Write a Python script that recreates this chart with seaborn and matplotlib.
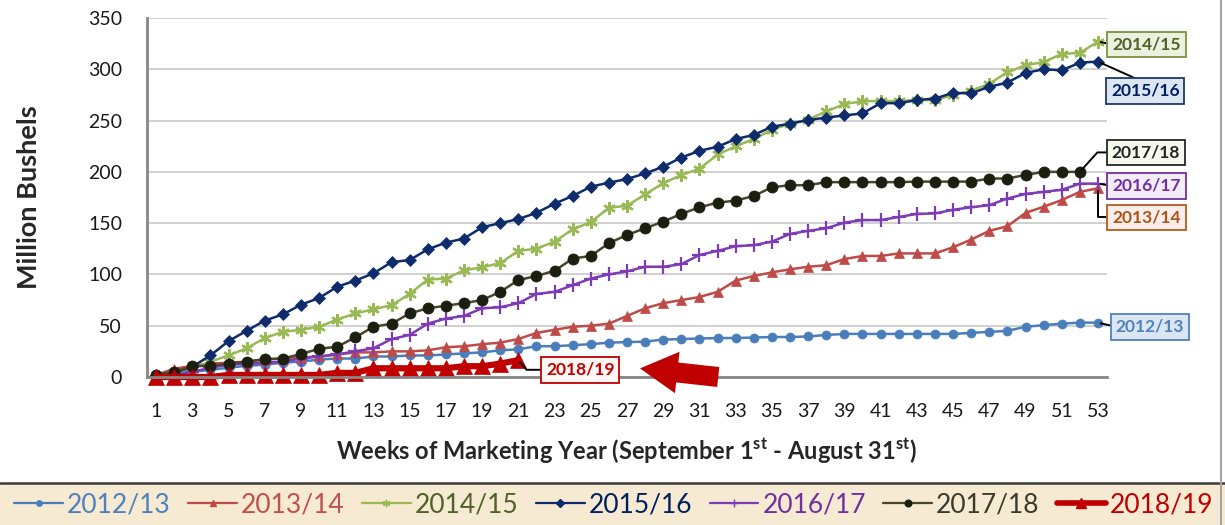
import seaborn as sns
import matplotlib.pyplot as plt
import pandas as pd
from matplotlib.patches import Rectangle
from matplotlib.lines import Line2D

# weekly cumulative values, million bushels
weeks = list(range(1, 54))
y1213 = [1, 3, 5, 7, 9, 11, 12, 14, 15, 17, 18, 18, 20, 20, 21, 21, 22, 23, 24, 26,
         27, 30, 30, 31, 32, 33.5, 34, 34.5, 36.5, 37, 37.5, 38, 38, 38.5, 39, 39, 39.5, 41,
         42, 42, 42, 42, 42, 42, 42, 43, 44, 45, 49, 50.5, 52, 53, 53]
y1314 = [2, 8, 11, 13, 14, 15, 17, 18, 19, 20, 22, 24, 24, 25, 25, 26, 29, 30, 32, 33.5,
         37, 43, 46, 49, 50, 52, 59.5, 67, 72, 75, 78, 83, 94, 98.5, 102, 105, 107.5, 109,
         115, 118, 118, 120.5, 120.5, 120.5, 126.5, 134, 142.5, 147, 160, 166, 172.5, 180.5, 184]
y1415 = [0, 3, 8, 15, 21, 28, 38, 44, 46, 49, 56, 62, 66, 70, 81, 95, 96, 104, 107, 111,
         123, 125, 132, 144, 151, 165, 167, 178, 189, 197, 203, 217, 225, 232, 241, 247, 251, 259,
         266, 269, 269, 269, 270, 270, 275, 279, 286, 297, 304, 307, 315, 316, 327]
y1516 = [2, 4, 10, 21, 35, 45, 55, 61, 70.5, 77, 88, 94, 101, 112, 114, 124.5, 131, 135, 146, 150,
         154, 160, 169, 176.5, 185.5, 189.5, 193, 198.5, 205, 214, 220.5, 224.5, 232, 236, 244, 247,
         250.5, 253, 255, 257, 267, 267, 270, 271.5, 277, 276.5, 283, 287, 296.5, 300, 299, 306.5, 307.5]
y1617 = [0, 2, 5, 9, 12, 13, 14, 15, 18, 20, 22, 25, 28, 37, 41, 52, 57, 59.5, 67, 68,
         72, 81, 83, 89.5, 96, 100, 103, 107.5, 107.5, 110, 119, 123, 127.5, 128.5, 132, 139.5,
         142.5, 145, 150.5, 153, 153, 156, 159, 159.5, 163, 165.5, 167.5, 174, 178.5, 180.5, 182.5,
         188.5, 188.5]
y1718 = [2, 5, 10.5, 11, 13, 15, 17.5, 18, 22.4, 27.5, 29.5, 38.7, 49, 52, 62, 67, 69.5, 72, 75, 83,
         94.5, 98.5, 103.5, 115.5, 118, 130.5, 138.5, 145, 151.5, 159, 165.5, 170, 172, 176.5, 185,
         187, 187, 190, 190, 190, 190, 190, 190.5, 190.5, 190.5, 190.5, 193.5, 193.5, 197, 200, 200, 200]
y1819 = [0, 0, 0, 0, 2, 2, 2, 2, 2, 2, 4, 4, 8.5, 8.5, 8.5, 8.5, 8.5, 10.5, 10.5, 13, 16.5]

seasons = ['2012/13', '2013/14', '2014/15', '2015/16', '2016/17', '2017/18', '2018/19']
values = [y1213, y1314, y1415, y1516, y1617, y1718, y1819]

line_colors = ['#4A7EBB', '#BE4B48', '#98B954', '#0E2C6B', '#7D3CB5', '#4A452A', '#C00000']
marker_colors = ['#4A7EBB', '#BE4B48', '#98B954', '#0E2C6B', '#7D3CB5', '#1A1F10', '#C00000']
text_colors = ['#4F81BD', '#C0504D', '#4F6228', '#002060', '#7030A0', '#3B3B2B', '#C00000']
markers = ['o', '^', (6, 2, 0), 'D', '+', 'o', '^']
msizes = [6.5, 7.5, 9, 6.5, 10, 8, 11]
lwidths = [1.8, 1.8, 1.8, 1.8, 1.8, 1.8, 4.5]

# label boxes: (fill, edge, text colour, offset in points, relpos, connection)
label_style = {
    '2014/15': ('#EBF1DE', '#77933C', '#4F6228', (35, -2), (0, 0.5), 'arc3'),
    '2015/16': ('#DCE6F2', '#1F3864', '#002060', (34, -21), (0.5, 1), 'arc3'),
    '2017/18': ('#F4F9EE', '#262626', '#262626', (47.5, 14), (0, 0.5), 'angle,angleA=0,angleB=48,rad=0'),
    '2016/17': ('#F2EBF8', '#7030A0', '#7030A0', (35, -1.5), (0, 0.5), 'arc3'),
    '2013/14': ('#FDEDEA', '#B65A1E', '#A9561C', (35, -21), (0, 0.5), 'angle,angleA=0,angleB=90,rad=0'),
    '2012/13': ('#DCE6F2', '#4F81BD', '#4F81BD', (37.5, -3), (0, 0.5), 'arc3'),
    '2018/19': ('#FFF6F6', '#C00000', '#C00000', (44.5, -7), (0, 0.5), 'angle,angleA=0,angleB=-50,rad=0'),
}

sns.set_style('white')
plt.rcParams['font.family'] = ['Lato', 'DejaVu Sans']
plt.rcParams['mathtext.fontset'] = 'custom'
plt.rcParams['mathtext.bf'] = 'Lato:bold'
plt.rcParams['mathtext.rm'] = 'Lato:bold'
plt.rcParams['mathtext.default'] = 'bf'

fig = plt.figure(figsize=(12.25, 5.25), dpi=100)
ax = fig.add_axes([0.12, 0.2819, 0.7837, 0.6838])

for s, v, lc, mc, mk, ms, lw in zip(seasons, values, line_colors, marker_colors,
                                     markers, msizes, lwidths):
    df = pd.DataFrame({'week': weeks[:len(v)], 'value': v})
    mew = 1.6 if mk in ['+', (6, 2, 0)] else 0.5
    sns.lineplot(data=df, x='week', y='value', ax=ax, color=lc, linewidth=lw,
                 marker=mk, markersize=ms, markerfacecolor=mc, markeredgecolor=mc,
                 markeredgewidth=mew, label=s, legend=False, clip_on=False)

ax.set_xlim(0.5, 53.5)
ax.set_ylim(0, 350)
ax.set_yticks(range(0, 351, 50))
ax.set_xticks(range(1, 54, 2))
ax.tick_params(axis='both', length=0, labelsize=14, colors='#1a1a1a')
ax.tick_params(axis='y', pad=18)
ax.tick_params(axis='x', pad=19)
ax.yaxis.grid(True, color='#D0D0D0', linewidth=1.4)
ax.set_axisbelow(True)
for side in ['top', 'right']:
    ax.spines[side].set_visible(False)
for side in ['left', 'bottom']:
    ax.spines[side].set_color('#868686')
    ax.spines[side].set_linewidth(2)

ax.set_ylabel('Million Bushels', fontsize=19.5, fontweight='bold', labelpad=34)
ax.set_xlabel(r'Weeks of Marketing Year (September 1$^{st}$ - August 31$^{st}$)',
              fontsize=17, fontweight='bold', labelpad=11)

# season labels at the last point of each line
for s, v in zip(seasons, values):
    fc, ec, tc, off, rel, conn = label_style[s]
    ax.annotate(s, xy=(len(v), v[-1]), xytext=off, textcoords='offset points',
                ha='center', va='center', fontsize=12.5, fontweight='bold', color=tc,
                bbox=dict(boxstyle='square,pad=0.28', fc=fc, ec=ec, lw=1.3),
                arrowprops=dict(arrowstyle='-', color='black', lw=1.4, relpos=rel,
                                connectionstyle=conn, shrinkA=0, shrinkB=2),
                annotation_clip=False, zorder=5)

# red arrow pointing at the current season
ax.annotate('', xy=(0.5135, 0.024), xytext=(0.595, 0.0), xycoords='axes fraction',
            arrowprops=dict(arrowstyle='simple,head_length=1.35,head_width=1.5,tail_width=0.72',
                            fc='#C00000', ec='none', mutation_scale=20, shrinkA=0, shrinkB=0),
            annotation_clip=False, zorder=6)

# legend band at the bottom
fig.patches.append(Rectangle((0, 0), 1, 42 / 525, transform=fig.transFigure,
                             facecolor='#F6EAD2', edgecolor='none', zorder=0))
fig.lines.append(Line2D([0, 1], [42 / 525, 42 / 525], transform=fig.transFigure,
                        color='#3a3a3a', linewidth=1.8))
fig.lines.append(Line2D([1220.5 / 1225] * 2, [0, 1], transform=fig.transFigure,
                        color='#A6A6A6', linewidth=1.5))

handles = [Line2D([], [], color=lc, marker=mk, markersize=ms * 0.6,
                  markerfacecolor=mc, markeredgecolor=mc, linewidth=lw * 0.9)
           for lc, mc, mk, ms, lw in zip(line_colors, marker_colors, markers, msizes, lwidths)]
leg = fig.legend(handles, seasons, loc='center', bbox_to_anchor=(0.501, 0.038), ncol=7,
                 frameon=False, prop=dict(family='Lato', size=19), handlelength=1.85,
                 handletextpad=0.15, columnspacing=0.66, borderaxespad=0)
for t, c in zip(leg.get_texts(), text_colors):
    t.set_color(c)

fig.savefig('out.png', dpi=100)
